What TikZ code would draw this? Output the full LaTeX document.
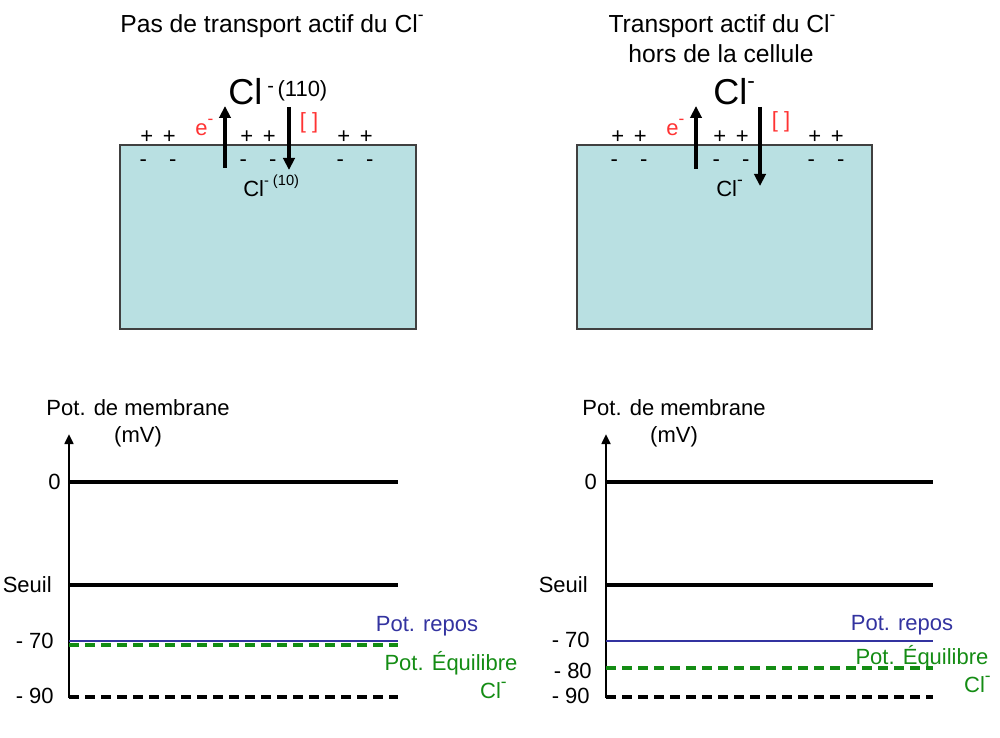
\documentclass[tikz,border=0pt]{standalone}
\usepackage{fontspec}
\setmainfont{Liberation Sans}
\usetikzlibrary{arrows.meta}
\definecolor{cellfill}{RGB}{185,224,226}
\definecolor{cellborder}{RGB}{64,64,64}
\definecolor{myred}{RGB}{255,51,51}
\definecolor{myblue}{RGB}{51,51,160}
\definecolor{mygreen}{RGB}{20,140,20}
\newcommand\supm{\raisebox{0.5em}{\fontsize{13}{13}\selectfont -}}
\begin{document}
\begin{tikzpicture}[x=0.75pt,y=-0.75pt,
  txt/.style={inner sep=0pt,font=\fontsize{16.5}{19}\selectfont},
  ttl/.style={inner sep=0pt,font=\fontsize{18.5}{22}\selectfont},
  big/.style={inner sep=0pt,font=\fontsize{27}{30}\selectfont},
  cellbox/.style={draw=cellborder,line width=1.2pt,fill=cellfill},
  flux/.style={line width=2.6pt,-{Triangle[width=8.5pt,length=9pt]}},
  axis/.style={line width=2.2pt,-{Triangle[width=6.5pt,length=7.5pt]}},
  lvl/.style={line width=2.9pt},
  lvldash/.style={line width=2.3pt,dash pattern=on 7.5pt off 4.5pt},
  rest/.style={line width=2.1pt,myblue},
]
\useasboundingbox (0,0) rectangle (1000,738);

% ---------------- top left ----------------
\node[ttl] (t1) at (272,26) {Pas de transport actif du Cl\supm};
\draw[cellbox] (120,145) rectangle (416,329);
\node[big,anchor=base west] (clL) at (228,105) {Cl};
\node[txt,anchor=base west] (clLsup) at (267,97) {\raisebox{3pt}{\fontsize{15}{15}\selectfont -}\,(110)};
\coordinate (upLa) at (225,168); \coordinate (upLb) at (225,106);
\coordinate (dnLa) at (289,107); \coordinate (dnLb) at (289,170);
\draw[flux] (upLa) -- (upLb);
\draw[flux] (dnLa) -- (dnLb);
\node[txt,myred,anchor=base west] (eL) at (195,136) {e\supm};
\node[txt,myred] (brL) at (309,123) {[ ]};
\node[txt] (p1) at (158,137) {+\, +};
\node[txt] (p2) at (258,137) {+\, +};
\node[txt] (p3) at (355,137) {+\, +};
\node[txt] (m1) at (158,163) {-\quad -};
\node[txt] (m2) at (258,163) {-\quad -};
\node[txt] (m3) at (355,163) {-\quad -};
\node[txt,anchor=base west] (clLin) at (243,197) {Cl\raisebox{0.5em}{\fontsize{11}{11}\selectfont - (10)}};

% ---------------- top right ----------------
\node[ttl] (t2) at (722,26) {Transport actif du Cl\supm};
\node[ttl] (t2b) at (721,54) {hors de la cellule};
\draw[cellbox] (577,145) rectangle (872,329);
\node[big,anchor=base west] (clR) at (713,105) {Cl\raisebox{0.45em}{\fontsize{17}{17}\selectfont -}};
\coordinate (upRa) at (696,169); \coordinate (upRb) at (696,106);
\coordinate (dnRa) at (760,107); \coordinate (dnRb) at (760,186);
\draw[flux] (upRa) -- (upRb);
\draw[flux] (dnRa) -- (dnRb);
\node[txt,myred,anchor=base west] (eR) at (666,136) {e\supm};
\node[txt,myred] (brR) at (781,122) {[ ]};
\node[txt] (q1) at (629,137) {+\, +};
\node[txt] (q2) at (731,137) {+\, +};
\node[txt] (q3) at (826,137) {+\, +};
\node[txt] (n1) at (629,163) {-\quad -};
\node[txt] (n2) at (731,163) {-\quad -};
\node[txt] (n3) at (826,163) {-\quad -};
\node[txt,anchor=base west] (clRin) at (716,197) {Cl\supm};

% ---------------- bottom left chart ----------------
\node[txt] (yl1) at (138,408) {Pot. de membrane};
\node[txt] (yl1b) at (138,437) {(mV)};
\coordinate (ax1a) at (69,698); \coordinate (ax1b) at (69,434);
\draw[axis] (ax1a) -- (ax1b);
\coordinate (z1a) at (69,482); \coordinate (z1b) at (398,482);
\coordinate (s1a) at (69,585); \coordinate (s1b) at (398,585);
\coordinate (r1a) at (69,641); \coordinate (r1b) at (398,641);
\coordinate (e1a) at (69,645); \coordinate (e1b) at (398,645);
\coordinate (k1a) at (69,697); \coordinate (k1b) at (398,697);
\draw[lvl] (z1a) -- (z1b);
\draw[lvl] (s1a) -- (s1b);
\draw[rest] (r1a) -- (r1b);
\draw[lvldash,mygreen] (e1a) -- (e1b);
\draw[lvldash] (k1a) -- (k1b);
\node[txt,anchor=east] (l10) at (61,482) {0};
\node[txt,anchor=east] (l1s) at (52,585) {Seuil};
\node[txt,anchor=east] (l170) at (54,641) {- 70};
\node[txt,anchor=east] (l190) at (54,696) {- 90};
\node[txt,myblue] (rp1) at (427,626) {Pot. repos};
\node[txt,mygreen] (eq1) at (451,663) {Pot. Équilibre};
\node[txt,mygreen,anchor=east] (eq1c) at (507,690) {Cl\supm};

% ---------------- bottom right chart ----------------
\node[txt] (yl2) at (674,408) {Pot. de membrane};
\node[txt] (yl2b) at (674,437) {(mV)};
\coordinate (ax2a) at (606,698); \coordinate (ax2b) at (606,434);
\draw[axis] (ax2a) -- (ax2b);
\coordinate (z2a) at (606,482); \coordinate (z2b) at (933,482);
\coordinate (s2a) at (606,585); \coordinate (s2b) at (933,585);
\coordinate (r2a) at (606,641); \coordinate (r2b) at (933,641);
\coordinate (e2a) at (606,668); \coordinate (e2b) at (933,668);
\coordinate (k2a) at (606,697); \coordinate (k2b) at (933,697);
\draw[lvl] (z2a) -- (z2b);
\draw[lvl] (s2a) -- (s2b);
\draw[rest] (r2a) -- (r2b);
\draw[lvldash,mygreen] (e2a) -- (e2b);
\draw[lvldash] (k2a) -- (k2b);
\node[txt,anchor=east] (l20) at (597,482) {0};
\node[txt,anchor=east] (l2s) at (588,585) {Seuil};
\node[txt,anchor=east] (l270) at (590,640) {- 70};
\node[txt,anchor=east] (l280) at (592,671) {- 80};
\node[txt,anchor=east] (l290) at (590,696) {- 90};
\node[txt,myblue] (rp2) at (902,625) {Pot. repos};
\node[txt,mygreen] (eq2) at (922,657) {Pot. Équilibre};
\node[txt,mygreen,anchor=east] (eq2c) at (991,684) {Cl\supm};
\end{tikzpicture}
\end{document}
